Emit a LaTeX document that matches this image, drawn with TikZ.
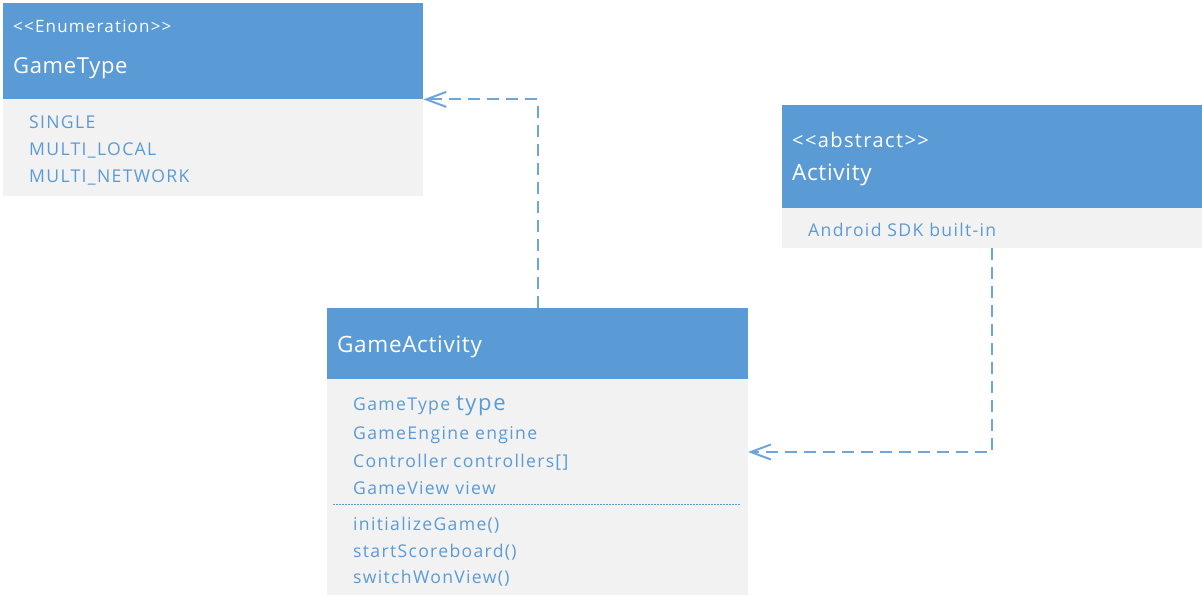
\documentclass[tikz,border=0pt]{standalone}
\usepackage{fontspec}
\setmainfont[LetterSpace=7.5]{Open Sans}
\newfontfamily\stereo[LetterSpace=7]{Open Sans}
\newfontfamily\titlef[LetterSpace=3]{Open Sans}
\usetikzlibrary{arrows.meta}
\definecolor{hdrblue}{HTML}{5B9BD5}
\definecolor{bodygrey}{HTML}{F2F2F2}
\definecolor{txtblue}{HTML}{5B9BD5}
\definecolor{lineblue}{HTML}{6FA6DA}
\tikzset{
  hdr/.style={fill=hdrblue, draw=none, inner sep=0pt, anchor=north west},
  bod/.style={fill=bodygrey, draw=none, inner sep=0pt, anchor=north west},
  htxt/.style={anchor=base west, inner sep=0pt, text=white},
  btxt/.style={anchor=base west, inner sep=0pt, text=txtblue, font=\fontsize{17.6}{20}\selectfont},
  dep/.style={draw=lineblue, line width=2pt, dash pattern=on 12pt off 7pt,
    -{Straight Barb[length=20pt,width=15pt,line width=2pt]}},
  sep/.style={draw=txtblue, line width=1pt, dash pattern=on 1.5pt off 1.5pt}
}
\begin{document}
\begin{tikzpicture}[x=1pt,y=-1pt]
\useasboundingbox (0,0) rectangle (1202,595);
% GameType enumeration
\node[hdr, minimum width=420pt, minimum height=96pt] (gtH) at (3,3) {};
\node[bod, minimum width=420pt, minimum height=97pt] (gtB) at (3,99) {};
\node[htxt, font=\stereo\fontsize{17}{20}\selectfont] (gtS) at (13,32) {<<Enumeration>>};
\node[htxt, font=\titlef\fontsize{22}{26}\selectfont] (gtT) at (13,73) {GameType};
\node[btxt] (gt1) at (29,128) {SINGLE};
\node[btxt] (gt2) at (29,155) {MULTI\_LOCAL};
\node[btxt] (gt3) at (29,182) {MULTI\_NETWORK};
% Activity abstract
\node[hdr, minimum width=420pt, minimum height=103pt] (acH) at (782,105) {};
\node[bod, minimum width=420pt, minimum height=40pt] (acB) at (782,208) {};
\node[htxt, font=\stereo\fontsize{20}{24}\selectfont] (acS) at (792,147) {<<abstract>>};
\node[htxt, font=\titlef\fontsize{22.5}{27}\selectfont] (acT) at (792,180) {Activity};
\node[btxt] (ac1) at (808,236) {Android SDK built-in};
% GameActivity
\node[hdr, minimum width=421pt, minimum height=71pt] (gaH) at (327,308) {};
\node[bod, minimum width=421pt, minimum height=216pt] (gaB) at (327,379) {};
\node[htxt, font=\titlef\fontsize{22.5}{27}\selectfont] (gaT) at (337,352) {GameActivity};
\node[btxt] (ga1) at (353,410) {GameType {\fontsize{22}{26}\selectfont type}};
\node[btxt] (ga2) at (353,439) {GameEngine engine};
\node[btxt] (ga3) at (353,467) {Controller controllers[]};
\node[btxt] (ga4) at (353,494) {GameView view};
\coordinate (sepL) at (333,504);
\coordinate (sepR) at (741,504);
\draw[sep] (sepL) -- (sepR);
\node[btxt] (ga5) at (353,530) {initializeGame()};
\node[btxt] (ga6) at (353,557) {startScoreboard()};
\node[btxt] (ga7) at (353,583) {switchWonView()};
% connectors
\coordinate (gaIn) at (748,452);
\draw[dep] (gaH.north) |- (gtH.south east);
\draw[dep] (acB.south) |- (gaIn);
\end{tikzpicture}
\end{document}
